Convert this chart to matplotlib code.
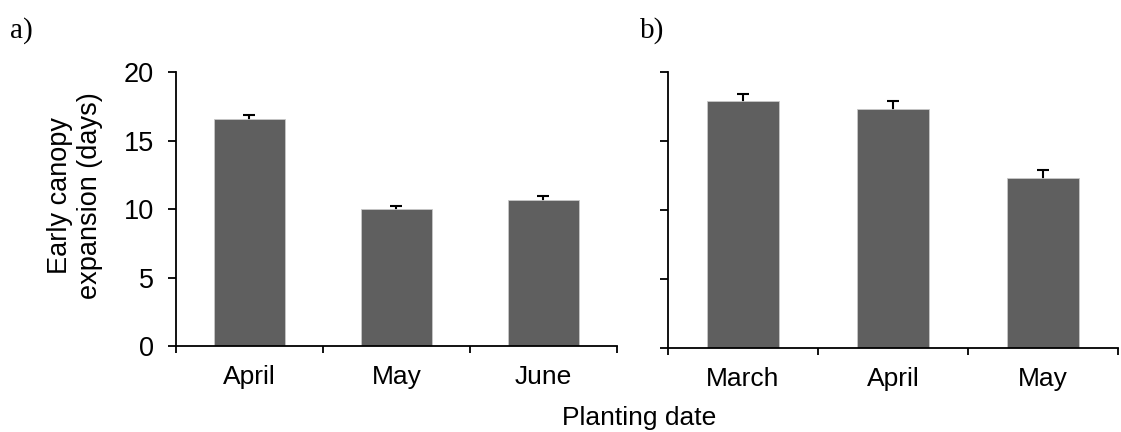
import matplotlib
matplotlib.use("Agg")
from matplotlib import pyplot as plt
import numpy as np

# panel a) data
meses_a = ["April", "May", "June"]
valores_a = [16.55, 9.97, 10.68]
error_a = [0.30, 0.28, 0.27]

# panel b) data
meses_b = ["March", "April", "May"]
valores_b = [17.88, 17.32, 12.29]
error_b = [0.53, 0.60, 0.58]

yticks = [0, 5, 10, 15, 20]

plt.rcParams['font.family'] = ['Liberation Sans', 'DejaVu Sans']

fig = plt.figure(figsize=(11.21, 4.32), dpi=100)
ax1 = fig.add_axes([0.157, 0.199, 0.3934, 0.634])
ax2 = fig.add_axes([0.5959, 0.1944, 0.4014, 0.639])


def panel(ax, meses, valores, error, etiquetas_y):
    x = np.arange(len(meses))
    ax.bar(x, valores, width=0.48, color='#5f5f5f', edgecolor='#c8c8c8',
           linewidth=0.6, zorder=2)
    # error bar behind the bar, so only the upper half shows
    ax.errorbar(x, valores, yerr=error, fmt='none',
                ecolor='black', elinewidth=1.5, capsize=4.3, capthick=1.5,
                zorder=1)
    ax.set_xlim(-0.5, len(meses) - 0.5)
    ax.set_ylim(0, 20)
    # ticks at category boundaries, labels in the middle
    ax.set_xticks(np.arange(len(meses) + 1) - 0.5)
    ax.set_xticklabels([])
    ax.set_xticks(x, minor=True)
    ax.set_xticklabels(meses, minor=True, fontsize=19)
    ax.tick_params(axis='x', which='major', direction='out', length=5,
                   width=1.3)
    ax.tick_params(axis='x', which='minor', length=0, pad=14)
    ax.set_yticks(yticks)
    if etiquetas_y:
        ax.set_yticklabels([str(t) for t in yticks], fontsize=19.5)
    else:
        ax.set_yticklabels([])
    ax.tick_params(axis='y', direction='out', length=6, width=1.3, pad=10)
    ax.spines['top'].set_visible(False)
    ax.spines['right'].set_visible(False)
    ax.spines['left'].set_linewidth(1.3)
    ax.spines['bottom'].set_linewidth(1.3)


panel(ax1, meses_a, valores_a, error_a, True)
panel(ax2, meses_b, valores_b, error_b, False)

ax1.set_ylabel("Early canopy\nexpansion (days)", fontsize=19.5,
               linespacing=1.2)
ax1.yaxis.set_label_coords(-0.165, 0.55)

fig.text(0.570, 0.032, "Planting date", fontsize=19, ha='center',
         va='center')
fig.text(0.009, 0.93, "a)", fontsize=21, family='Liberation Serif',
         va='center')
fig.text(0.571, 0.93, "b)", fontsize=21, family='Liberation Serif',
         va='center')

plt.savefig("out.png", dpi=100)
